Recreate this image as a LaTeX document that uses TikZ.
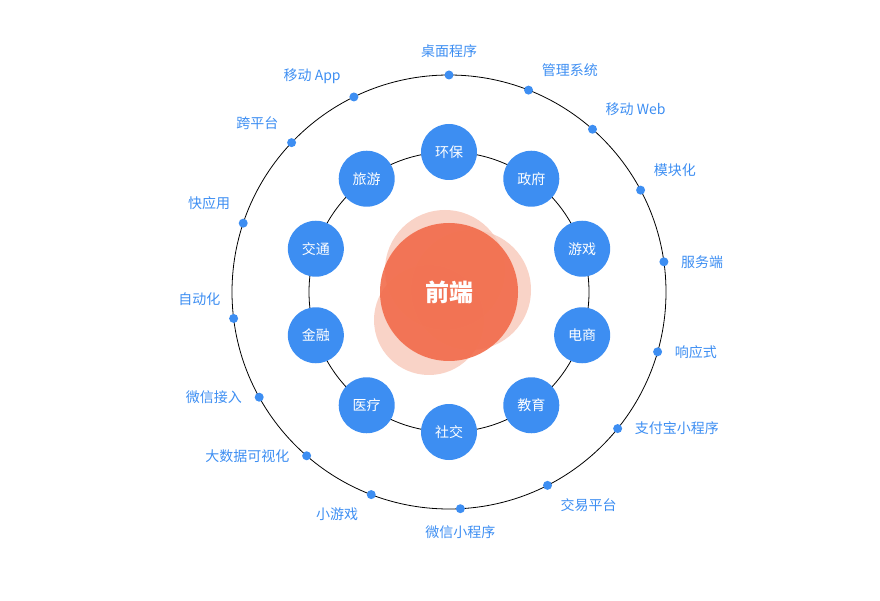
\documentclass[tikz,border=0pt]{standalone}
\usepackage{fontspec}
\setmainfont{Noto Sans CJK SC}
\usetikzlibrary{positioning,calc}
\definecolor{fblue}{HTML}{3D8EF2}
\definecolor{forange}{HTML}{F26B4A}
\definecolor{fpink}{HTML}{F7C4B4}
\tikzset{
  area/.style={circle,fill=fblue,text=white,minimum size=56pt,inner sep=0pt,font=\fontsize{14}{16}\selectfont},
  spot/.style={circle,fill=fblue,minimum size=9pt,inner sep=0pt},
  tag/.style={text=fblue,font=\fontsize{14}{16}\selectfont,label distance=9pt}
}
\begin{document}
\begin{tikzpicture}[x=1pt,y=1pt]
    \useasboundingbox (0,0) rectangle (880,600);
    \coordinate (o) at (449,308);
    % rings
    \draw[black,line width=0.8pt] (o) circle (217);
    \draw[black,line width=0.8pt] (o) circle (140);
    % centre
    \fill[fpink,opacity=0.75] ($(o)+(-4,22)$) circle (60);
    \fill[fpink,opacity=0.75] ($(o)+(22,2)$) circle (60);
    \fill[fpink,opacity=0.75] ($(o)+(-20,-28)$) circle (55);
    \fill[forange,opacity=0.9] (o) circle (69);
    \node[text=white,font=\bfseries\fontsize{24}{28}\selectfont] (fe) at (o) {前端};
    % inner ring
    \foreach \a/\t [count=\i] in {90/环保,54/政府,18/游戏,-18/电商,-54/教育,-90/社交,-126/医疗,-162/金融,162/交通,126/旅游}
        \node[area] (in\i) at ($(o)+(\a:140)$) {\t};
    % outer ring
    \foreach \a/\t/\p [count=\i] in {90/桌面程序/above,68.5/管理系统/above right,48.6/移动 Web/above right,28/模块化/above right,
        8/服务端/right,-16/响应式/right,-39/支付宝小程序/right,-63/交易平台/below right,-87/微信小程序/below,
        -111/小游戏/below left,-131/大数据可视化/left,-151/微信接入/left,-173/自动化/above left,
        161.5/快应用/above left,136.5/跨平台/above left,116/移动 App/above left}
        \node[spot,label={[tag]\p:\t}] (out\i) at ($(o)+(\a:217)$) {};
\end{tikzpicture}
\end{document}
